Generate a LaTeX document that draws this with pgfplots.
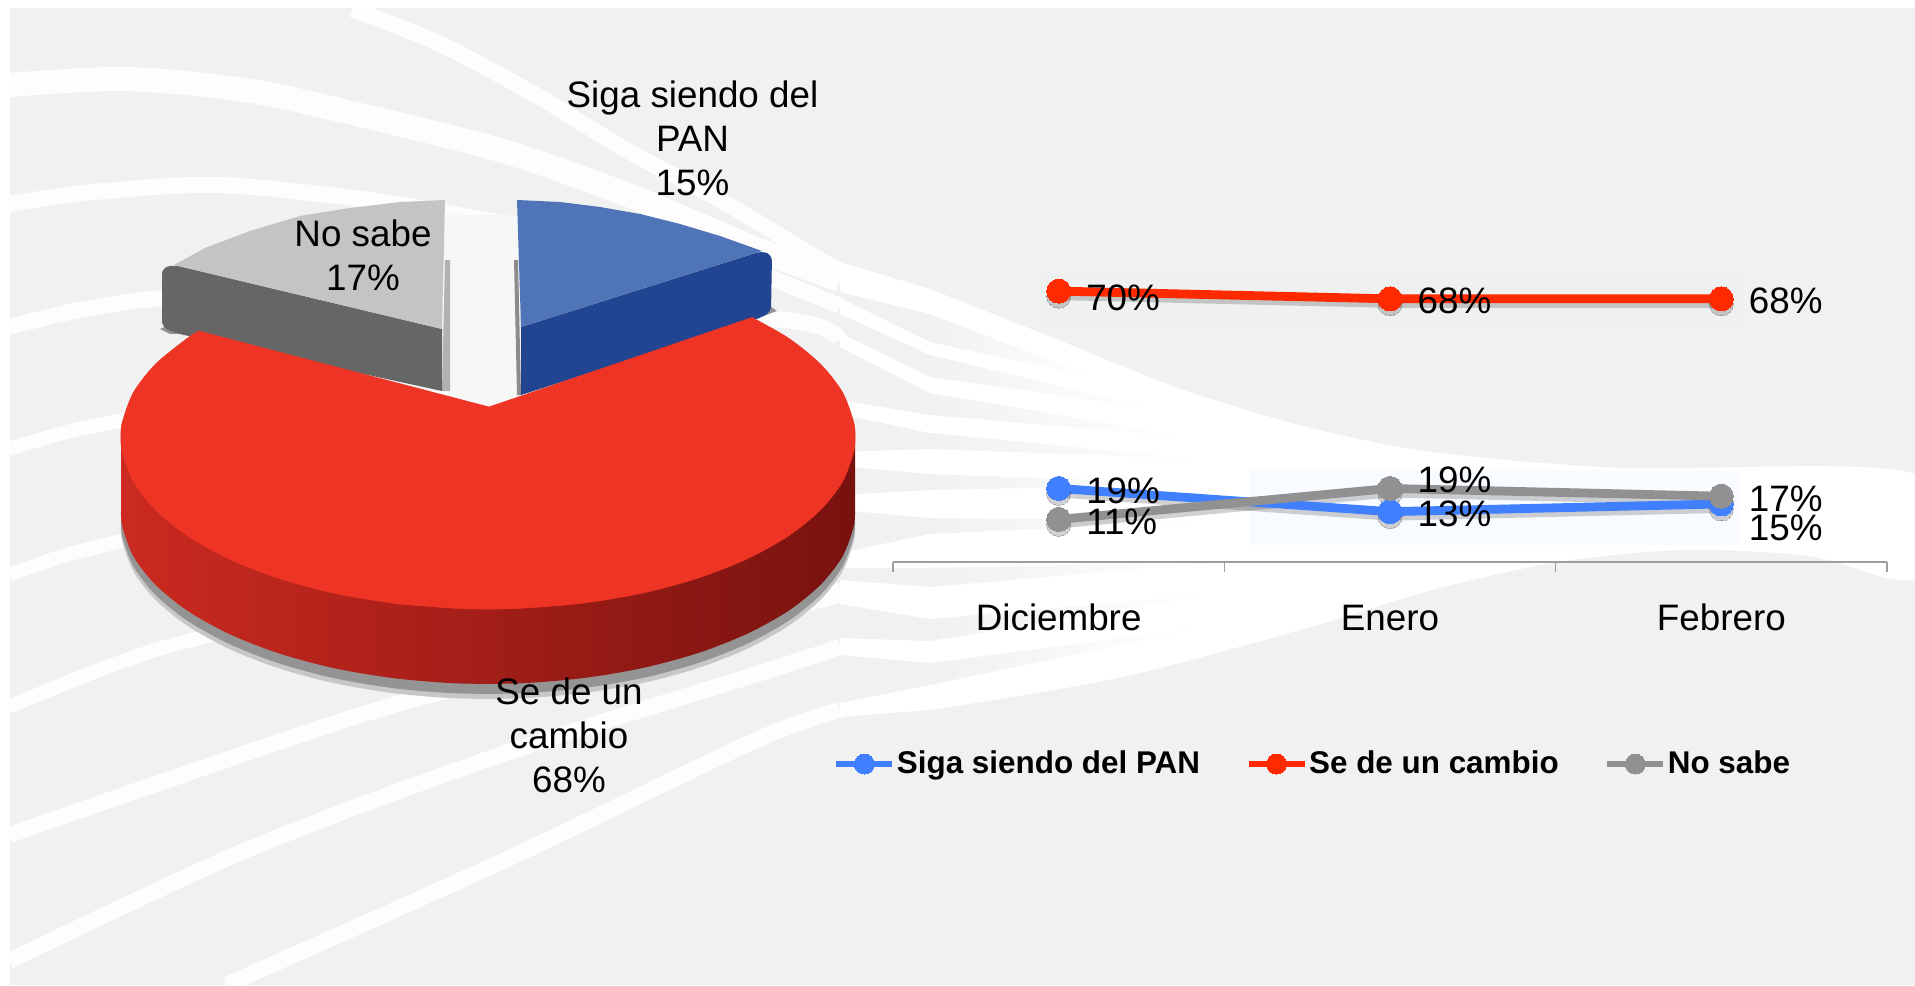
\documentclass[border=0pt]{standalone}
\usepackage{fontspec}
\setmainfont{Liberation Sans}
\usepackage{pgfplots}
\usepackage{pgfplotstable}
\pgfplotsset{compat=1.18}
\definecolor{bgc}{HTML}{F1F1F1}
\definecolor{serblue}{HTML}{4080FF}
\definecolor{serred}{HTML}{FF2A00}
\definecolor{sergrey}{HTML}{919191}
\definecolor{pietop}{HTML}{EE3424}
\pgfplotstableread{
x y
855 512
853.6 527
842.5 556.5
820.6 584.7
788.6 610.7
747.5 633.6
698.5 652.9
643.1 667.9
583 678.1
520 683.3
456 683.3
393 678.1
332.9 667.9
277.5 652.9
228.5 633.6
187.4 610.7
155.4 584.7
133.5 556.5
122.4 527
121 512
}\sidearc
\pgfplotstableread{
x y
121 445
855 445
855 512
121 512
}\siderect
\pgfplotstableread{
x y
752 317.5
788.6 338.3
820.6 364.3
842.5 392.5
853.6 422
855 437
853.6 452
842.5 481.5
820.6 509.7
788.6 535.7
747.5 558.6
698.5 577.9
643.1 592.9
583 603.1
520 608.3
488 609
}\redarcright
\pgfplotstableread{
x y
488 609
456 608.3
393 603.1
332.9 592.9
277.5 577.9
228.5 558.6
187.4 535.7
155.4 509.7
133.5 481.5
122.4 452
121 437
122.4 422
133.5 392.5
155.4 364.3
187.4 338.3
198.8 331.1
}\redarcleft
\begin{document}
\begin{tikzpicture}
\path[use as bounding box] (0,0) rectangle (957.5pt,492.5pt);
\pgfplotsset{sw/.style={white,line width=#1,smooth,forget plot,no marks,opacity=.9},
  gp/.style={fill=white,draw=none,forget plot},
  st/.style={left color=bgc,right color=white,draw=none,forget plot},
  sidecol/.style={left color={rgb,255:red,204;green,42;blue,32},middle color={rgb,255:red,165;green,30;blue,28},right color={rgb,255:red,120;green,18;blue,15},draw=none,forget plot},
  topcol/.style={fill=pietop,draw=pietop,line width=.3pt,forget plot}}
% background, in the pixel coordinates of the reference
\begin{axis}[at={(0pt,0pt)},anchor=south west,scale only axis,width=957.5pt,height=492.5pt,
  xmin=0,xmax=1915,ymin=0,ymax=985,y dir=reverse,hide axis,clip=false]
\addplot[fill=bgc,draw=none,forget plot] coordinates {(10,7.5)(1915,7.5)(1915,985)(10,985)};
\begin{scope}
\clip (axis cs:10,7.5) rectangle (axis cs:1915,985);
\addplot[sw=12pt] coordinates {(9,85)(126,79)(251,91)(377,119)(503,151)(628,195)(754,248)(840,280)};
\addplot[sw=8pt] coordinates {(352,9)(440,44)(534,94)(628,151)(722,201)(817,258)(840,270)};
\addplot[sw=8pt] coordinates {(9,204)(94,192)(220,185)(377,201)(503,223)(691,251)(840,306)};
\addplot[sw=8pt] coordinates {(9,327)(75,311)(163,298)(314,292)(471,301)(785,320)(840,340)};
\addplot[sw=7pt] coordinates {(9,449)(63,433)(119,421)(250,400)(500,400)(800,430)};
\addplot[sw=7pt] coordinates {(9,575)(63,556)(126,540)(250,510)(500,500)(800,500)};
\addplot[sw=7pt] coordinates {(9,707)(94,672)(188,641)(377,603)(754,597)(840,590)};
\addplot[sw=8pt] coordinates {(9,835)(188,773)(377,710)(565,660)(754,616)(840,595)};
\addplot[sw=8pt] coordinates {(9,961)(251,848)(503,754)(754,675)(840,647)};
\addplot[sw=8pt] coordinates {(226,985)(503,861)(754,741)(840,710)};
% bands widen into the white wedge
\addplot[gp] coordinates {(840,262)(840,292)(930,314)(930,289)};
\addplot[gp] coordinates {(840,298)(840,314)(930,355)(930,342)};
\addplot[gp] coordinates {(840,333)(840,347)(930,393)(930,377)};
\addplot[gp] coordinates {(840,400)(840,414)(930,433)(930,415)};
\addplot[gp] coordinates {(840,452)(840,466)(930,474)(930,449)};
\addplot[gp] coordinates {(840,495)(840,510)(930,518)(930,490)};
\addplot[gp] coordinates {(840,553)(840,568)(930,568)(930,534)};
\addplot[gp] coordinates {(840,580)(840,604)(930,619)(930,587)};
\addplot[gp] coordinates {(840,638)(840,655)(930,663)(930,641)};
\addplot[gp] coordinates {(840,703)(840,717)(930,710)(930,685)};
% white wedge at the right
\addplot[fill=white,draw=none,forget plot,smooth,tension=.5] coordinates {(930,289)(1056,339)(1181,389)(1307,427)(1432,452)(1621,468)(1915,474)(1915,578)(1809,556)(1684,550)(1558,562)(1432,590)(1307,628)(1118,678)(930,710)};
% grey streaks in the wedge
\addplot[st] coordinates {(930,314)(1093,377)(930,342)};
\addplot[st] coordinates {(930,355)(1150,408)(930,377)};
\addplot[st] coordinates {(930,393)(1188,437)(930,415)};
\addplot[st] coordinates {(930,433)(1200,459)(930,449)};
\addplot[st] coordinates {(930,474)(1206,484)(930,490)};
\addplot[st] coordinates {(930,518)(1206,521)(930,534)};
\addplot[st] coordinates {(930,568)(1219,562)(930,587)};
\addplot[st] coordinates {(930,619)(1213,594)(930,641)};
\addplot[st] coordinates {(930,663)(1200,628)(930,685)};
\end{scope}
% pale panels behind the lines
\addplot[fill={rgb,255:red,248;green,251;blue,255},draw=none,forget plot] coordinates {(1250,470)(1740,470)(1740,545)(1250,545)};
\addplot[fill={rgb,255:red,239;green,240;blue,240},draw=none,forget plot] coordinates {(1037,273)(1740,273)(1740,327)(1037,327)};
\end{axis}
% pie
\begin{axis}[at={(0pt,0pt)},anchor=south west,scale only axis,width=957.5pt,height=492.5pt,
  xmin=0,xmax=1915,ymin=0,ymax=985,y dir=reverse,hide axis,clip=false]
\addplot[fill=black!22,draw=none,yshift=-7.5pt,forget plot,smooth] table {\sidearc};
\addplot[fill=black!22,draw=none,yshift=-7.5pt,forget plot] table {\siderect};
\addplot[fill=black!42,draw=none,yshift=-5pt,forget plot,smooth] table {\sidearc};
\addplot[fill=black!42,draw=none,yshift=-5pt,forget plot] table {\siderect};
\addplot[fill=black!42,draw=none,forget plot] coordinates {(164,327)(192,333)(170,334)(160,329)};
\addplot[fill=black!42,draw=none,forget plot] coordinates {(770,306)(777,311)(752,320)(745,316)};
% gap between the wedges
\addplot[fill={rgb,255:red,247;green,247;blue,247},draw=none,forget plot] coordinates {(445,215)(517,215)(521,395)(489,407)(442,391)};
% No sabe 17%
\addplot[fill=black!30,draw=none,forget plot] coordinates {(445,260)(450,260)(450,391)(442,391)};
\addplot[fill=black!60,draw=none,forget plot,rounded corners=3pt] coordinates {(442,329)(174,265)(162,268)(162,327)(175,333)(442,391)};
\addplot[fill=black!23,draw=none,forget plot] coordinates {(442,329)(445,200)(400,202)(350,208)(300,216)(250,231)(205,248)(174,265)};
% Siga siendo del PAN 15%
\addplot[fill=black!45,draw=none,forget plot] coordinates {(514,260)(518,260)(521,395)(517,395)};
\addplot[fill={rgb,255:red,33;green,69;blue,144},draw=none,forget plot,rounded corners=3pt] coordinates {(521,327)(762,251)(772,255)(771,312)(760,318)(521,395)};
\addplot[fill={rgb,255:red,79;green,116;blue,184},draw=none,forget plot] coordinates {(521,327)(517,200)(560,202)(600,207)(640,214)(680,224)(720,236)(762,251)};
% Se de un cambio 68%
\addplot[sidecol,smooth] table {\sidearc};
\addplot[sidecol] table {\siderect};
\addplot[topcol,smooth] table {\redarcright};
\addplot[topcol,smooth] table {\redarcleft};
\addplot[topcol] coordinates {(489,407)(752,317.5)(488,609)(198.8,331.1)} -- cycle;
\node[align=center,inner sep=0pt,font=\fontsize{18.4}{22}\selectfont] at (axis cs:692.5,138) {Siga siendo del\\PAN\\15\%};
\node[align=center,inner sep=0pt,font=\fontsize{18.4}{22}\selectfont] at (axis cs:363,255) {No sabe\\17\%};
\node[align=center,inner sep=0pt,font=\fontsize{18.4}{22}\selectfont] at (axis cs:569,735) {Se de un\\cambio\\68\%};
\end{axis}
% line chart
\begin{axis}[at={(446.5pt,211.5pt)},anchor=south west,scale only axis,width=497pt,height=193.5pt,
  xmin=-0.5,xmax=2.5,ymin=0,ymax=100,clip=false,
  /pgf/number format/assume math mode=true,
  axis x line=bottom,axis y line=none,
  x axis line style={-,draw=black!38,line width=1pt},
  xtick={0,1,2},xticklabels={Diciembre,Enero,Febrero},
  minor xtick={-0.5,0.5,1.5,2.5},
  major tick length=0pt,minor tick length=5pt,tick align=outside,
  minor tick style={draw=black!38,line width=.8pt},
  xticklabel shift=21pt,
  x tick label style={font=\fontsize{18.4}{22}\selectfont,text height=13pt,text depth=0pt,inner sep=0pt},
  legend columns=3,
  legend style={at={(-0.06,-0.522)},anchor=west,draw=none,fill=none,font=\fontsize{15.7}{18}\selectfont\bfseries,
    /tikz/every even column/.append style={column sep=22pt},inner sep=0pt,nodes={inner sep=1pt}},
  legend image code/.code={\draw[#1,line width=2.6pt,mark size=5pt,mark repeat=2,mark phase=2] plot coordinates {(0pt,0pt)(14pt,0pt)(28pt,0pt)};},
  every node near coord/.append style={anchor=west,inner sep=0pt,xshift=13.6pt,yshift=-1.2pt,font=\fontsize{18.4}{22}\selectfont,text=black},
  nodes near coords={\pgfmathprintnumber{\pgfplotspointmeta}\%},
]
\pgfplotsset{ser/.style={line width=4.4pt,mark=*,mark size=6pt,mark options={solid,fill=#1,draw=#1,line width=0pt},draw=#1,nodes near coords={}},
  shad/.style={forget plot,yshift=-2.5pt,line width=4pt,draw=black,opacity=.18,mark=*,mark size=6pt,mark options={fill=black,draw=black,line width=0pt},nodes near coords={}}}
\addplot[shad] coordinates {(0,70)(1,68)(2,68)};
\addplot[shad] coordinates {(0,19)(1,13)(2,15)};
\addplot[shad] coordinates {(0,11)(1,19)(2,17)};
\addplot[ser=serblue] coordinates {(0,19)(1,13)(2,15)};
\addplot[ser=serred] coordinates {(0,70)(1,68)(2,68)};
\addplot[ser=sergrey] coordinates {(0,11)(1,19)(2,17)};
\legend{Siga siendo del PAN,Se de un cambio,No sabe}
% data labels, on top of all lines
\addplot[forget plot,draw=none,point meta=y,coordinate style/.condition={x==2}{yshift=-11pt}] coordinates {(0,19)(1,13)(2,15)};
\addplot[forget plot,draw=none,point meta=y,coordinate style/.condition={x==0}{yshift=-2pt}] coordinates {(0,70)(1,68)(2,68)};
\addplot[forget plot,draw=none,point meta=y,coordinate style/.condition={x==1}{yshift=5.5pt}] coordinates {(0,11)(1,19)(2,17)};
\end{axis}
\end{tikzpicture}
\end{document}
